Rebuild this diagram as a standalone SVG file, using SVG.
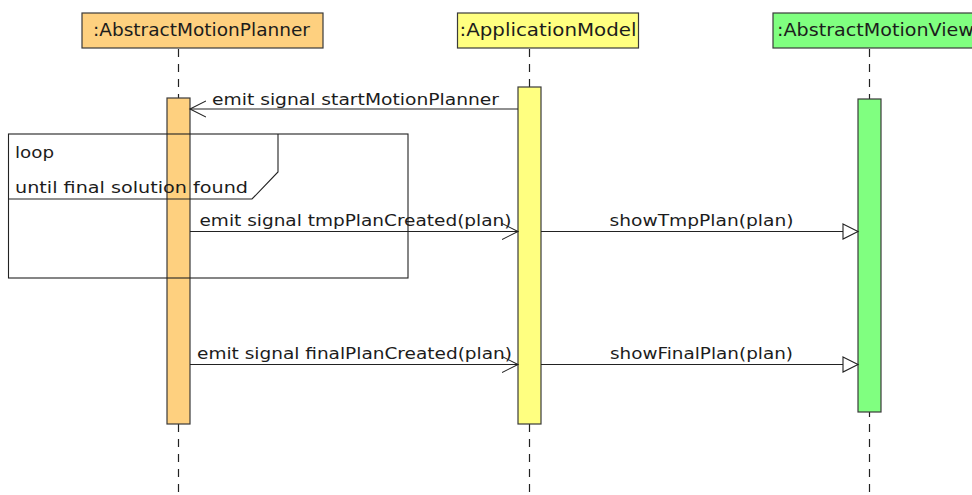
<svg xmlns="http://www.w3.org/2000/svg" width="972" height="495" viewBox="0 0 972 495">
  <style>
    text { font-family: "DejaVu Sans", "Liberation Sans", sans-serif; fill: #1c1c1c; }
    .hdr { font-size: 17px; }
    .lbl { font-size: 16px; }
    .box { stroke: #3a3a3a; stroke-width: 1.2; }
    .life { stroke: #222; stroke-width: 1.2; stroke-dasharray: 8 7; fill: none; }
    .msg { stroke: #222; stroke-width: 1.1; fill: none; }
    .frame { stroke: #222; stroke-width: 1.1; fill: none; }
    .planner { fill: #FED07F; }
    .model { fill: #FFFF80; }
    .view { fill: #80FF80; }
  </style>
  <defs>
    <marker id="open" markerWidth="18" markerHeight="18" refX="16" refY="9" orient="auto" markerUnits="userSpaceOnUse">
      <path d="M0,1 L16,9 L0,17" fill="none" stroke="#222" stroke-width="1.1"/>
    </marker>
    <marker id="hollow" markerWidth="18" markerHeight="18" refX="16" refY="9" orient="auto" markerUnits="userSpaceOnUse">
      <path d="M1,1.5 L16,9 L1,16.5 Z" fill="#fff" stroke="#222" stroke-width="1.1"/>
    </marker>
  </defs>

  <!-- lifelines -->
  <g id="lifelines">
    <line class="life" x1="178.5" y1="49" x2="178.5" y2="495"/>
    <line class="life" x1="529.5" y1="49" x2="529.5" y2="495"/>
    <line class="life" x1="869.5" y1="49" x2="869.5" y2="495"/>
  </g>

  <g id="planner">
    <rect class="box planner" x="82" y="13" width="241" height="35"/>
    <text class="hdr" x="93" y="36" textLength="217" lengthAdjust="spacingAndGlyphs">:AbstractMotionPlanner</text>
    <rect class="box planner" x="167" y="98" width="23" height="326"/>
  </g>

  <g id="model">
    <rect class="box model" x="457.5" y="13" width="181" height="35"/>
    <text class="hdr" x="459.5" y="36" textLength="177" lengthAdjust="spacingAndGlyphs">:ApplicationModel</text>
    <rect class="box model" x="518" y="87" width="23" height="337"/>
  </g>

  <g id="view">
    <rect class="box view" x="773" y="13" width="210" height="35"/>
    <text class="hdr" x="777" y="36" textLength="197" lengthAdjust="spacingAndGlyphs">:AbstractMotionView</text>
    <rect class="box view" x="858" y="99" width="23" height="313"/>
  </g>

  <!-- combined fragment -->
  <g id="loop">
    <rect class="frame" x="8.5" y="134" width="399.5" height="144"/>
    <path class="frame" d="M278,134 V172 L252,199 H8.5"/>
    <text class="lbl" x="15" y="158" textLength="39" lengthAdjust="spacingAndGlyphs">loop</text>
    <text class="lbl" x="15" y="193" textLength="233" lengthAdjust="spacingAndGlyphs">until final solution found</text>
  </g>

  <g id="connectors">
    <line class="msg" x1="518" y1="109" x2="190" y2="109" marker-end="url(#open)"/>
    <text class="lbl" x="212" y="105" textLength="287" lengthAdjust="spacingAndGlyphs">emit signal startMotionPlanner</text>

    <line class="msg" x1="190" y1="231.5" x2="518" y2="231.5" marker-end="url(#open)"/>
    <text class="lbl" x="199.5" y="226" textLength="312" lengthAdjust="spacingAndGlyphs">emit signal tmpPlanCreated(plan)</text>

    <line class="msg" x1="541" y1="231.5" x2="858" y2="231.5" marker-end="url(#hollow)"/>
    <text class="lbl" x="609.5" y="226" textLength="184" lengthAdjust="spacingAndGlyphs">showTmpPlan(plan)</text>

    <line class="msg" x1="190" y1="364.5" x2="518" y2="364.5" marker-end="url(#open)"/>
    <text class="lbl" x="197" y="359" textLength="315" lengthAdjust="spacingAndGlyphs">emit signal finalPlanCreated(plan)</text>

    <line class="msg" x1="541" y1="364.5" x2="858" y2="364.5" marker-end="url(#hollow)"/>
    <text class="lbl" x="610" y="359" textLength="183" lengthAdjust="spacingAndGlyphs">showFinalPlan(plan)</text>
  </g>
</svg>
